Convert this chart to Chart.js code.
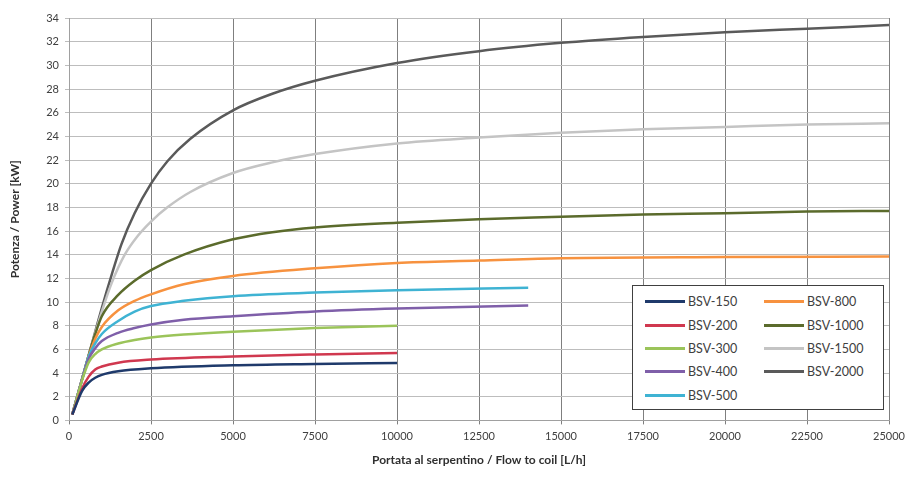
<!DOCTYPE html>
<html>
<head>
<meta charset="utf-8">
<script src="https://cdn.jsdelivr.net/npm/chart.js@4.4.1/dist/chart.umd.min.js"></script>
<style>
  html, body { margin: 0; padding: 0; background: #fff; }
  #wrap { position: relative; width: 914px; height: 481px; }
  #legend {
    position: absolute; left: 632px; top: 285px; width: 252px; height: 125px;
    box-sizing: border-box; border: 1px solid #404040; background: #fff;
    display: grid; grid-auto-flow: column; grid-template-rows: repeat(5, 1fr);
    grid-template-columns: 1fr 1fr; padding: 4px 0 2px 12px;
    font-family: Lato, "Open Sans", sans-serif; font-size: 12.5px; color: #404040;
  }
  #legend .item { display: flex; align-items: center; }
  #legend .sw { width: 40px; height: 3px; margin-right: 3px; }
</style>
</head>
<body>
<div id="wrap">
  <canvas id="chart" width="914" height="481"></canvas>
  <div id="legend"></div>
</div>
<script>
const seriesNames = ['BSV-150', 'BSV-200', 'BSV-300', 'BSV-400', 'BSV-500', 'BSV-800', 'BSV-1000', 'BSV-1500', 'BSV-2000'];
const seriesColors = ['#1f3a6b', '#d0384f', '#9bc45a', '#7f5fa9', '#3fb3d3', '#f7923f', '#5b6b2c', '#c4c4c4', '#5a5a5a'];

// [flow L/h, power kW]
const bsv150 = [[100,0.5],[400,2.5],[600,3.2],[800,3.6],[1000,3.85],[1500,4.15],[2500,4.4],[5000,4.66],[7500,4.77],[10000,4.85]];
const bsv200 = [[100,0.5],[400,2.7],[600,3.7],[800,4.3],[1000,4.55],[1500,4.88],[2500,5.14],[5000,5.4],[7500,5.57],[10000,5.7]];
const bsv300 = [[100,0.5],[400,3.4],[600,4.9],[800,5.6],[1000,6.0],[1500,6.5],[2000,6.8],[2500,7.0],[3500,7.25],[5000,7.5],[7500,7.8],[10000,8.0]];
const bsv400 = [[100,0.5],[400,3.5],[600,5.2],[800,6.1],[1000,6.7],[1500,7.4],[2000,7.8],[2500,8.1],[3500,8.5],[5000,8.8],[7500,9.2],[10000,9.45],[14000,9.7]];
const bsv500 = [[100,0.5],[400,3.5],[600,5.4],[800,6.5],[1000,7.3],[1500,8.4],[2000,9.2],[2500,9.66],[3500,10.1],[5000,10.5],[7500,10.8],[10000,11.0],[14000,11.2]];
const bsv800 = [[100,0.5],[400,3.5],[600,5.4],[800,6.9],[1000,7.9],[1500,9.3],[2000,10.1],[2500,10.65],[3500,11.5],[5000,12.2],[7500,12.85],[10000,13.3],[12500,13.5],[15000,13.7],[20000,13.8],[25000,13.85]];
const bsv1000 = [[100,0.5],[400,3.5],[600,5.5],[800,7.3],[1000,8.8],[1500,10.6],[2000,11.8],[2500,12.7],[3500,14.0],[5000,15.3],[6200,15.9],[7500,16.3],[10000,16.7],[12500,17.0],[15000,17.2],[17500,17.4],[20000,17.5],[22500,17.65],[25000,17.7]];
const bsv1500 = [[100,0.5],[400,3.5],[600,5.5],[800,7.4],[1000,9.2],[1300,11.6],[1700,14.0],[2100,15.6],[2500,16.8],[3000,18.0],[3700,19.3],[5000,20.9],[6200,21.8],[7500,22.5],[10000,23.4],[12500,23.9],[15000,24.3],[17500,24.6],[20000,24.8],[22500,25.0],[25000,25.1]];
const bsv2000 = [[100,0.5],[400,3.5],[600,5.5],[800,7.5],[1000,9.5],[1300,12.3],[1600,14.9],[2000,17.5],[2500,20.0],[3000,21.9],[3700,23.8],[5000,26.2],[6200,27.6],[7500,28.7],[10000,30.2],[12500,31.2],[15000,31.9],[17500,32.4],[20000,32.8],[22500,33.1],[25000,33.4]];

const seriesData = [bsv150, bsv200, bsv300, bsv400, bsv500, bsv800, bsv1000, bsv1500, bsv2000];

const xMax = 25000, xStep = 2500;
const yMax = 34, yStep = 2;

const FONT = 'Lato, "Open Sans", sans-serif';

const datasets = seriesNames.map((name, i) => ({
  label: name,
  data: seriesData[i].map(p => ({ x: p[0], y: p[1] })),
  borderColor: seriesColors[i],
  backgroundColor: seriesColors[i],
  borderWidth: 2.5,
  pointRadius: 0,
  fill: false,
  cubicInterpolationMode: 'monotone'
}));

new Chart(document.getElementById('chart'), {
  type: 'line',
  data: { datasets },
  options: {
    responsive: false,
    animation: false,
    layout: { padding: { left: 4, right: 25, top: 18, bottom: 10 } },
    plugins: { legend: { display: false }, tooltip: { enabled: false } },
    scales: {
      x: {
        type: 'linear', min: 0, max: xMax,
        ticks: { stepSize: xStep, color: '#404040', font: { family: FONT, size: 11 }, maxRotation: 0, padding: 5,
          callback: v => String(v) },
        grid: { color: '#7f7f7f', lineWidth: 1, tickLength: 4 },
        border: { color: '#a0a0a0' },
        title: { display: true, text: 'Portata al serpentino / Flow to coil [L/h]', color: '#303030',
          font: { family: FONT, size: 12, weight: 'bold' }, padding: { top: 5 } }
      },
      y: {
        min: 0, max: yMax,
        ticks: { stepSize: yStep, color: '#404040', font: { family: FONT, size: 11 }, padding: 6 },
        grid: { color: '#bdbdbd', lineWidth: 1, tickLength: 4 },
        border: { color: '#a0a0a0' },
        title: { display: true, text: 'Potenza / Power [kW]', color: '#303030',
          font: { family: FONT, size: 12, weight: 'bold' }, padding: { bottom: 4 } },
        afterFit: s => { s.width = 65; }
      }
    }
  }
});

// legend, column by column like the original
const legendEl = document.getElementById('legend');
legendEl.innerHTML = seriesNames.map((n, i) =>
  `<div class="item"><span class="sw" style="background:${seriesColors[i]}"></span>${n}</div>`
).join('');
</script>
</body>
</html>
